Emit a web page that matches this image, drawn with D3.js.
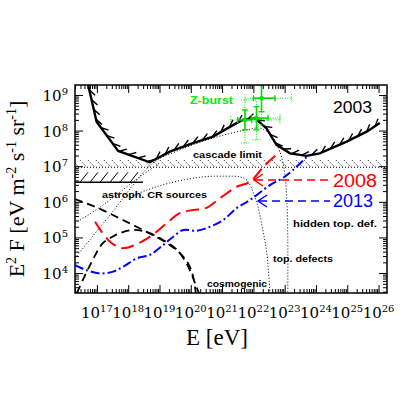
<!DOCTYPE html>
<html>
<head>
<meta charset="utf-8">
<script src="https://d3js.org/d3.v7.min.js"></script>
<style>
  body { margin: 0; background: #fff; }
  svg { display: block; }
</style>
</head>
<body>
<script>
// all values are [log10(E/eV), log10(E^2 F)]
var limit2003 = [[16.72,9.28],[16.99,8.25],[17.68,7.43],[18.69,7.11],[19.33,7.41],[20.07,7.65],
  [20.71,7.83],[21.46,8.21],[21.66,8.30],[22.05,8.35],[22.42,8.06],[22.74,7.60],[23.17,7.36],
  [23.70,7.29],[24.12,7.36],[24.98,7.69],[25.62,7.97],[26.04,8.21]];
var sens2008 = [[16.94,5.44],[17.36,4.93],[17.73,4.71],[18.00,4.72],[18.43,4.88],[18.85,5.12],
  [19.23,5.40],[19.65,5.68],[20.08,5.77],[20.50,5.83],[20.93,6.10],[21.46,6.42],[21.89,6.56],
  [22.37,7.03],[22.85,7.41]];
var sens2013 = [[16.30,4.22],[16.67,4.08],[17.10,3.99],[17.52,4.04],[17.84,4.18],[18.27,4.41],
  [18.69,4.51],[19.12,4.79],[19.44,5.02],[19.76,5.21],[20.19,5.19],[20.61,5.30],[21.04,5.49],
  [21.46,5.82],[21.89,6.05],[22.53,6.47],[22.94,6.67],[23.26,6.89],[23.74,7.29]];
var astroSources = [[16.30,6.08],[17.10,5.80],[17.83,5.49],[18.60,5.15],[19.24,4.84],[19.65,4.56],
  [19.91,4.28],[20.07,3.92],[20.16,3.44]];
var cosmogenic = [[16.36,3.44],[16.78,4.22],[17.19,4.84],[17.48,5.01],[17.73,5.12],[18.15,5.21],
  [18.60,5.15],[19.11,4.93],[19.56,4.65],[19.84,4.31],[20.04,3.94],[20.16,3.66],[20.26,3.44]];
var topDefects = [[16.30,4.42],[17.42,5.63],[18.79,7.09],[19.49,7.40],[20.71,7.79],[21.78,8.02],
  [22.21,8.07],[22.53,7.90],[22.75,7.60],[22.91,7.23],[23.01,6.75],[23.07,6.05],[23.10,4.93],[23.10,3.44]];
var astroDotted = [[16.30,5.40],[17.10,5.85],[18.37,6.70],[19.01,7.09]];
var hiddenTopDef = [[18.05,6.13],[18.60,6.33],[19.33,6.53],[20.39,6.70],[21.09,6.72],[21.57,6.70],
  [21.79,6.61],[22.11,5.97],[22.30,5.21],[22.43,4.56],[22.53,3.44]];
// Z-burst points: x, y, solid x-bar, solid y-bar, dotted x-bar, dotted y-bar
var zburst = [
  {x:22.26, y:8.91, sx:[22.00,22.69], sy:[8.53,9.28], dx:[21.73,23.22], dy:[8.16,9.28]},
  {x:21.73, y:8.30, sx:[21.50,21.95], sy:[8.02,8.58], dx:[21.28,22.85], dy:[7.65,8.86]},
  {x:22.10, y:8.35, sx:[21.94,22.47], sy:[8.02,8.67], dx:[21.73,22.85], dy:[7.74,8.86]}
];
var cascadeLimit = 6.97, cascadeTop = 7.17;
var oldLimit = {y:6.55, x0:16.30, x1:18.47, top:6.83};
var xTickExp = [17,18,19,20,21,22,23,24,25,26];
var yTickExp = [4,5,6,7,8,9];

var W = 409, H = 409;
var svg = d3.select("body").append("svg").attr("width", W).attr("height", H);

var x = d3.scaleLog().domain([Math.pow(10,16.3), Math.pow(10,26.27)]).range([75,387]);
var y = d3.scaleLog().domain([Math.pow(10,3.44), Math.pow(10,9.28)]).range([293,85]);
function px(d) { return x(Math.pow(10, d[0])); }
function py(d) { return y(Math.pow(10, d[1])); }
function X(v) { return x(Math.pow(10, v)); }
function Y(v) { return y(Math.pow(10, v)); }

var plot = svg.append("g");
svg.append("clipPath").attr("id","clip").append("rect")
  .attr("x",75).attr("y",85).attr("width",312).attr("height",208);
var inner = plot.append("g").attr("clip-path","url(#clip)");

// ticks (inward, all four sides)
var majX = [], minX = [], majY = [], minY = [];
for (var e = 16; e <= 26; e++) {
  majX.push(Math.pow(10,e));
  for (var k = 2; k <= 9; k++) minX.push(k*Math.pow(10,e));
}
for (var e2 = 3; e2 <= 9; e2++) {
  majY.push(Math.pow(10,e2));
  for (var k2 = 2; k2 <= 9; k2++) minY.push(k2*Math.pow(10,e2));
}
function inX(v) { return v >= x.domain()[0] && v <= x.domain()[1]; }
function inY(v) { return v >= y.domain()[0] && v <= y.domain()[1]; }
majX = majX.filter(inX); minX = minX.filter(inX);
majY = majY.filter(inY); minY = minY.filter(inY);

function addAxis(gen, tr, vals, size) {
  var g = plot.append("g").attr("transform", tr)
    .call(gen.tickValues(vals).tickSize(size).tickFormat(""));
  g.select(".domain").remove();
  g.selectAll("line").attr("stroke","#000").attr("stroke-width",1);
}
addAxis(d3.axisBottom(x), "translate(0,293)", majX, -8);
addAxis(d3.axisBottom(x), "translate(0,293)", minX, -4);
addAxis(d3.axisTop(x), "translate(0,85)", majX, -8);
addAxis(d3.axisTop(x), "translate(0,85)", minX, -4);
addAxis(d3.axisLeft(y), "translate(75,0)", majY, -8);
addAxis(d3.axisLeft(y), "translate(75,0)", minY, -4);
addAxis(d3.axisRight(y), "translate(387,0)", majY, -8);
addAxis(d3.axisRight(y), "translate(387,0)", minY, -4);

// tick labels
var serif = "'Liberation Serif','DejaVu Serif',serif";
var tickFont = "'DejaVu Serif','Liberation Serif',serif";
xTickExp.forEach(function (e) {
  var t = plot.append("text").attr("x", X(e)).attr("y", 318)
    .attr("text-anchor","middle").style("font-family", tickFont).style("font-size","15px");
  t.append("tspan").text("10");
  t.append("tspan").attr("dy",-6).style("font-size","10px").text(e);
});
yTickExp.forEach(function (e) {
  var t = plot.append("text").attr("x", 68).attr("y", Y(e)+6)
    .attr("text-anchor","end").style("font-family", tickFont).style("font-size","15px");
  t.append("tspan").text("10");
  t.append("tspan").attr("dy",-6).style("font-size","10px").text(e);
});

// axis titles
plot.append("text").attr("x", 217).attr("y", 345).attr("text-anchor","middle")
  .style("font-family", serif).style("font-size","23px").text("E [eV]");
var yl = plot.append("text").attr("transform","translate(24,189) rotate(-90)")
  .attr("text-anchor","middle").style("font-family", serif).style("font-size","22px");
yl.append("tspan").text("E");
yl.append("tspan").attr("dy",-8).style("font-size","14px").text("2");
yl.append("tspan").attr("dy",8).text(" F [eV m");
yl.append("tspan").attr("dy",-8).style("font-size","14px").text("-2");
yl.append("tspan").attr("dy",8).text(" s");
yl.append("tspan").attr("dy",-8).style("font-size","14px").text("-1");
yl.append("tspan").attr("dy",8).text(" sr");
yl.append("tspan").attr("dy",-8).style("font-size","14px").text("-1");
yl.append("tspan").attr("dy",8).text("]");

// cascade limit: dotted line with dotted hatching above
inner.append("line").attr("x1",75).attr("x2",387).attr("y1",Y(cascadeLimit)).attr("y2",Y(cascadeLimit))
  .attr("stroke","#000").attr("stroke-width",1).attr("stroke-dasharray","1,2");
d3.range(72, 390, 8).forEach(function (xx) {
  inner.append("line").attr("x1",xx).attr("y1",Y(cascadeTop)).attr("x2",xx+7).attr("y2",Y(cascadeLimit))
    .attr("stroke","#000").attr("stroke-width",1).attr("stroke-dasharray","1,1.5");
});

// older limit: solid line with hatching
inner.append("line").attr("x1",X(oldLimit.x0)).attr("x2",X(oldLimit.x1))
  .attr("y1",Y(oldLimit.y)).attr("y2",Y(oldLimit.y)).attr("stroke","#000").attr("stroke-width",1.3);
d3.range(80, X(oldLimit.x1)-4, 10).forEach(function (xx) {
  inner.append("line").attr("x1",xx).attr("y1",Y(oldLimit.y)).attr("x2",xx+8).attr("y2",Y(oldLimit.top))
    .attr("stroke","#000").attr("stroke-width",1);
});

var smooth = d3.line().x(px).y(py).curve(d3.curveCatmullRom.alpha(0.5));
function curve(data, color, width, dash) {
  inner.append("path").datum(data).attr("d", smooth).attr("fill","none")
    .attr("stroke", color).attr("stroke-width", width).attr("stroke-dasharray", dash);
}
curve(topDefects, "#000", 1, "1,2");
curve(astroDotted, "#000", 1, "1,2");
curve(hiddenTopDef, "#000", 1, "1,2");
curve(astroSources, "#000", 1.8, "8,5");
curve(cosmogenic, "#000", 1.8, "8,5");
curve(sens2013, "#0000ff", 2, "9,3,2,3");
curve(sens2008, "#ff0000", 2, "13,6");

// 2003 limit with hatch ticks on the excluded side
var lin = d3.line().x(px).y(py);
inner.append("path").datum(limit2003).attr("d", lin).attr("fill","none")
  .attr("stroke","#000").attr("stroke-width",2.4);
var pts = limit2003.map(function (d) { return [px(d), py(d)]; });
var step = 10, acc = 5, ang = -35 * Math.PI/180, len = 8;
for (var i = 0; i < pts.length-1; i++) {
  var a = pts[i], b = pts[i+1];
  var dx = b[0]-a[0], dy = b[1]-a[1], L = Math.hypot(dx,dy);
  var ux = dx/L, uy = dy/L;
  var tx = ux*Math.cos(ang) - uy*Math.sin(ang), ty = ux*Math.sin(ang) + uy*Math.cos(ang);
  while (acc < L) {
    var sx = a[0]+ux*acc, sy = a[1]+uy*acc;
    inner.append("line").attr("x1",sx).attr("y1",sy).attr("x2",sx+tx*len).attr("y2",sy+ty*len)
      .attr("stroke","#000").attr("stroke-width",1.4);
    acc += step;
  }
  acc -= L;
}

// Z-burst points
var green = "#00dd00";
zburst.forEach(function (p) {
  inner.append("line").attr("x1",X(p.dx[0])).attr("x2",X(p.dx[1])).attr("y1",Y(p.y)).attr("y2",Y(p.y))
    .attr("stroke",green).attr("stroke-width",1).attr("stroke-dasharray","1,1.5");
  inner.append("line").attr("x1",X(p.x)).attr("x2",X(p.x)).attr("y1",Y(p.dy[0])).attr("y2",Y(p.dy[1]))
    .attr("stroke",green).attr("stroke-width",1).attr("stroke-dasharray","1,1.5");
  [p.dx[0], p.dx[1]].forEach(function (v) {
    inner.append("line").attr("x1",X(v)).attr("x2",X(v)).attr("y1",Y(p.y)-4).attr("y2",Y(p.y)+4)
      .attr("stroke",green).attr("stroke-width",1).attr("stroke-dasharray","1,1.5");
  });
  [p.dy[0], p.dy[1]].forEach(function (v) {
    inner.append("line").attr("x1",X(p.x)-4).attr("x2",X(p.x)+4).attr("y1",Y(v)).attr("y2",Y(v))
      .attr("stroke",green).attr("stroke-width",1).attr("stroke-dasharray","1,1.5");
  });
  inner.append("line").attr("x1",X(p.sx[0])).attr("x2",X(p.sx[1])).attr("y1",Y(p.y)).attr("y2",Y(p.y))
    .attr("stroke",green).attr("stroke-width",1.6);
  inner.append("line").attr("x1",X(p.x)).attr("x2",X(p.x)).attr("y1",Y(p.sy[0])).attr("y2",Y(p.sy[1]))
    .attr("stroke",green).attr("stroke-width",1.6);
  [p.sx[0], p.sx[1]].forEach(function (v) {
    inner.append("line").attr("x1",X(v)).attr("x2",X(v)).attr("y1",Y(p.y)-3).attr("y2",Y(p.y)+3)
      .attr("stroke",green).attr("stroke-width",1.4);
  });
  [p.sy[0], p.sy[1]].forEach(function (v) {
    inner.append("line").attr("x1",X(p.x)-3).attr("x2",X(p.x)+3).attr("y1",Y(v)).attr("y2",Y(v))
      .attr("stroke",green).attr("stroke-width",1.4);
  });
  inner.append("circle").attr("cx",X(p.x)).attr("cy",Y(p.y)).attr("r",2.2).attr("fill",green);
});

// labels
var sans = "'Liberation Sans',Arial,sans-serif";
function label(txt, lx, ly, size, opts) {
  opts = opts || {};
  var t = plot.append("text").attr("x",lx).attr("y",ly).text(txt)
    .style("font-family", sans).style("font-size", size+"px")
    .style("font-weight", opts.bold ? "bold" : "normal").attr("fill", opts.color || "#000");
  if (opts.w) t.attr("textLength", opts.w).attr("lengthAdjust","spacingAndGlyphs");
  return t;
}
label("2003", 333, 113, 16, {w:39});
label("Z-burst", 190, 104, 10, {bold:true, color:"#00ee00", w:43});
label("cascade limit", 193, 158, 9, {bold:true, w:69});
label("astroph. CR sources", 102, 198, 9, {bold:true, w:105});
label("hidden top. def.", 293, 227, 9, {bold:true, w:84});
label("top. defects", 273, 262, 9, {bold:true, w:60});
label("cosmogenic", 207, 287, 9, {bold:true, w:60});
label("2008", 333, 187, 18, {color:"#ff0000", w:44});
label("2013", 333, 207, 18, {color:"#0000ff", w:40});

// pointer arrows
function pointer(tipX, yy, color) {
  plot.append("path").attr("d","M"+(tipX+9)+","+(yy-6)+"L"+tipX+","+yy+"L"+(tipX+9)+","+(yy+6))
    .attr("fill","none").attr("stroke",color).attr("stroke-width",1.5);
  plot.append("line").attr("x1",tipX+1).attr("x2",330).attr("y1",yy).attr("y2",yy)
    .attr("stroke",color).attr("stroke-width",1.5).attr("stroke-dasharray","8,5");
}
pointer(254, 180, "#ff0000");
pointer(258, 201, "#0000ff");

// frame
plot.append("rect").attr("x",75).attr("y",85).attr("width",312).attr("height",208)
  .attr("fill","none").attr("stroke","#000").attr("stroke-width",1.5);
</script>
</body>
</html>
